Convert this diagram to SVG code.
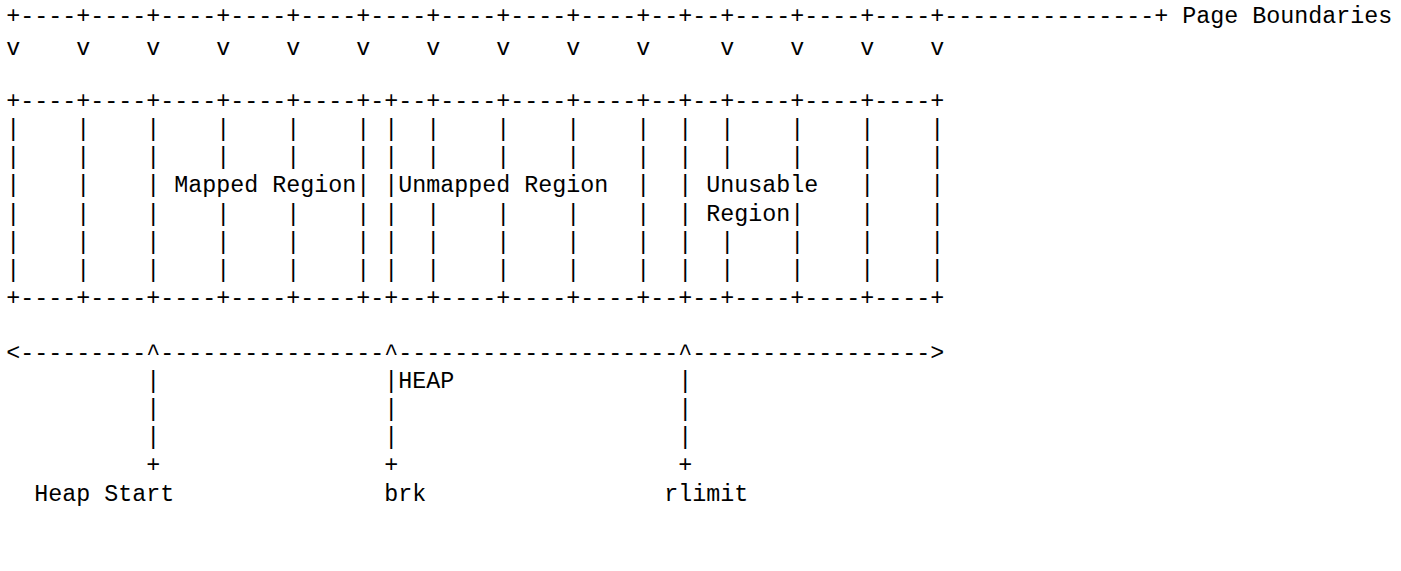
<svg xmlns="http://www.w3.org/2000/svg" width="1401" height="571" viewBox="0 0 1401 571" xml:space="preserve">
<style>
.t { font-family: "Liberation Mono", "DejaVu Sans Mono", monospace; font-size: 23.333px; fill: #000; white-space: pre; }
</style>
<rect x="0" y="0" width="1401" height="571" fill="#fff"/>
<g id="page-boundaries">
<text class="t" x="6.3" y="23.1">+----+----+----+----+----+----+----+----+----+--+--+----+----+----+---------------+ Page Boundaries</text>
<text class="t" x="6.3" y="55">v    v    v    v    v    v    v    v    v    v     v    v    v    v</text>
</g>
<g id="memory-map">
<text class="t" x="6.3" y="107.7">+----+----+----+----+----+-+--+----+----+----+--+--+----+----+----+</text>
<text class="t" x="6.3" y="135.9">|    |    |    |    |    | |  |    |    |    |  |  |    |    |    |</text>
<text class="t" x="6.3" y="164.1">|    |    |    |    |    | |  |    |    |    |  |  |    |    |    |</text>
<text class="t" x="6.3" y="192.3">|    |    | Mapped Region| |Unmapped Region  |  | Unusable   |    |</text>
<text class="t" x="6.3" y="220.5">|    |    |    |    |    | |  |    |    |    |  | Region|    |    |</text>
<text class="t" x="6.3" y="248.7">|    |    |    |    |    | |  |    |    |    |  |  |    |    |    |</text>
<text class="t" x="6.3" y="276.9">|    |    |    |    |    | |  |    |    |    |  |  |    |    |    |</text>
<text class="t" x="6.3" y="305.1">+----+----+----+----+----+-+--+----+----+----+--+--+----+----+----+</text>
</g>
<g id="connectors">
<text class="t" x="6.3" y="359.5">&lt;---------^----------------^--------------------^-----------------&gt;</text>
<text class="t" x="146.3" y="387.7">|</text><text class="t" x="384.3" y="387.7">|</text><text class="t" x="678.3" y="387.7">|</text>
<text class="t" x="146.3" y="415.9">|</text><text class="t" x="384.3" y="415.9">|</text><text class="t" x="678.3" y="415.9">|</text>
<text class="t" x="146.3" y="444.1">|</text><text class="t" x="384.3" y="444.1">|</text><text class="t" x="678.3" y="444.1">|</text>
<text class="t" x="146.3" y="472.3">+</text><text class="t" x="384.3" y="472.3">+</text><text class="t" x="678.3" y="472.3">+</text>
</g>
<g id="heap-label"><text class="t" x="398.3" y="387.7">HEAP</text></g>
<g id="heap-start"><text class="t" x="34.3" y="500.5">Heap Start</text></g>
<g id="brk"><text class="t" x="384.3" y="500.5">brk</text></g>
<g id="rlimit"><text class="t" x="664.3" y="500.5">rlimit</text></g>
</svg>
